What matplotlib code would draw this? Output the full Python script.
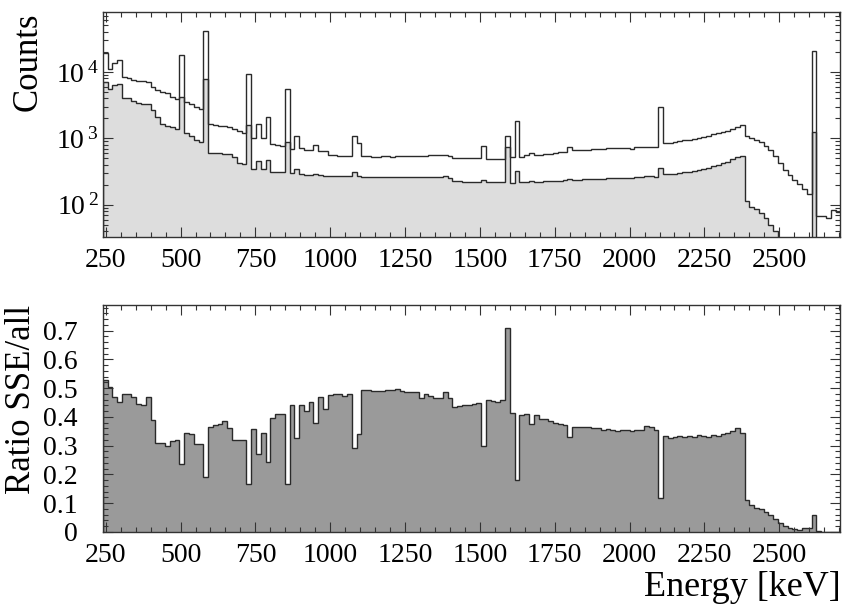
import numpy as np
import matplotlib
matplotlib.use('Agg')
import matplotlib.pyplot as plt
from matplotlib.ticker import MultipleLocator, FixedLocator, FuncFormatter, LogLocator, NullFormatter

# histogram binning (keV)
e_min = 240
bin_w = 16

# all events (upper line, top panel)
counts_all = [
    19500, 11000, 13800, 15100, 8500, 8200, 7500, 7400, 7400, 7150,
    6000, 5400, 5050, 4750, 4150, 3900, 18000, 3570, 3250, 3000,
    2750, 41500, 1650, 1600, 1560, 1510, 1480, 1380, 1300, 1220,
    9200, 1030, 1630, 1000, 2080, 815, 800, 770, 5600, 700,
    1070, 720, 665, 665, 800, 645, 650, 560, 555, 550,
    550, 550, 1100, 850, 550, 540, 530, 530, 535, 535,
    530, 535, 540, 540, 540, 545, 545, 550, 555, 560,
    560, 560, 545, 515, 510, 505, 505, 500, 498, 770,
    490, 487, 485, 485, 1080, 520, 1800, 530, 560, 610,
    565, 570, 575, 590, 610, 620, 625, 740, 660, 670,
    675, 680, 685, 695, 700, 705, 705, 705, 710, 710,
    700, 730, 740, 745, 745, 740, 2950, 865, 865, 890,
    905, 930, 950, 985, 1015, 1065, 1100, 1150, 1190, 1250,
    1310, 1370, 1470, 1580, 1090, 1010, 950, 875, 770, 670,
    535, 430, 335, 283, 237, 207, 174, 145, 20400, 67,
    67, 63, 84, 79]

# single site events (filled, top panel)
counts_sse = [
    7150, 5500, 6300, 6600, 4100, 4000, 3700, 3380, 3250, 3300,
    2700, 2080, 1630, 1510, 1460, 1390, 4150, 1200, 1100, 950,
    870, 7750, 610, 610, 600, 580, 590, 520, 425, 405,
    1590, 345, 450, 345, 475, 315, 315, 315, 890, 300,
    345, 290, 282, 282, 293, 282, 276, 267, 267, 267,
    267, 267, 316, 276, 262, 262, 260, 258, 258, 258,
    258, 260, 260, 262, 262, 262, 260, 262, 263, 263,
    265, 270, 255, 228, 226, 224, 224, 224, 224, 237,
    222, 220, 220, 222, 750, 215, 325, 222, 224, 226,
    224, 224, 226, 228, 230, 232, 234, 245, 238, 240,
    242, 244, 245, 246, 248, 250, 250, 250, 252, 252,
    250, 262, 264, 270, 268, 266, 355, 292, 292, 292,
    300, 310, 316, 328, 335, 347, 364, 378, 400, 423,
    448, 485, 520, 545, 116, 94, 86, 75, 63, 50,
    40, 28, 18, 12, 8, 6, 6, 5, 1230, 2,
    1, 1, 1, 1]

# ratio SSE/all (bottom panel)
ratio = [
    0.53, 0.505, 0.47, 0.45, 0.48, 0.48, 0.47, 0.445, 0.44, 0.47,
    0.39, 0.31, 0.31, 0.30, 0.316, 0.32, 0.235, 0.345, 0.34, 0.305,
    0.305, 0.19, 0.365, 0.372, 0.375, 0.386, 0.36, 0.32, 0.32, 0.32,
    0.167, 0.357, 0.27, 0.345, 0.243, 0.395, 0.41, 0.41, 0.167, 0.44,
    0.325, 0.44, 0.42, 0.45, 0.377, 0.47, 0.427, 0.476, 0.48, 0.48,
    0.473, 0.48, 0.293, 0.34, 0.493, 0.493, 0.49, 0.49, 0.49, 0.493,
    0.493, 0.497, 0.49, 0.488, 0.487, 0.487, 0.467, 0.48, 0.473, 0.465,
    0.467, 0.487, 0.467, 0.435, 0.438, 0.44, 0.442, 0.444, 0.447, 0.30,
    0.458, 0.456, 0.453, 0.458, 0.709, 0.415, 0.179, 0.407, 0.41, 0.374,
    0.406, 0.394, 0.392, 0.386, 0.377, 0.374, 0.372, 0.33, 0.366, 0.365,
    0.363, 0.363, 0.36, 0.36, 0.355, 0.357, 0.355, 0.35, 0.356, 0.354,
    0.35, 0.355, 0.354, 0.369, 0.363, 0.355, 0.119, 0.334, 0.328, 0.331,
    0.334, 0.33, 0.334, 0.331, 0.336, 0.334, 0.331, 0.336, 0.334, 0.34,
    0.343, 0.35, 0.36, 0.345, 0.11, 0.092, 0.084, 0.078, 0.07, 0.06,
    0.043, 0.029, 0.02, 0.014, 0.009, 0.008, 0.012, 0.014, 0.057, 0.002,
    0, 0, 0, 0]

x_ticks = [250, 500, 750, 1000, 1250, 1500, 1750, 2000, 2250, 2500]

plt.rcParams['font.family'] = ['Liberation Serif', 'DejaVu Serif']
plt.rcParams['mathtext.fontset'] = 'custom'
plt.rcParams['mathtext.rm'] = 'Liberation Serif'

edges = e_min + bin_w * np.arange(len(counts_all) + 1)
line_c = '#2a2a2a'

fig = plt.figure(figsize=(8.42, 6.12), dpi=100)
ax1 = fig.add_axes([0.122, 0.613, 0.876, 0.367])
ax2 = fig.add_axes([0.122, 0.131, 0.876, 0.371])

# top panel: counts
ax1.stairs(counts_sse, edges, fill=True, color='#dddddd', baseline=1)
ax1.stairs(counts_sse, edges, color=line_c, lw=1.0, baseline=1)
ax1.stairs(counts_all, edges, color=line_c, lw=1.0, baseline=None)
ax1.set_yscale('log')
ax1.set_ylim(33, 79000)
ax1.yaxis.set_major_locator(FixedLocator([100, 1000, 10000]))
ax1.yaxis.set_major_formatter(FuncFormatter(lambda v, p: r'$\mathregular{10^{\,%d}}$' % round(np.log10(v))))
ax1.yaxis.set_minor_locator(LogLocator(base=10, subs=np.arange(2, 10)))
ax1.yaxis.set_minor_formatter(NullFormatter())
ax1.set_ylabel('Counts', fontsize=25, loc='top', labelpad=8)
ax1.tick_params(axis='y', which='major', pad=3)

# bottom panel: ratio
ax2.stairs(ratio, edges, fill=True, color='#9a9a9a', baseline=0)
ax2.stairs(ratio, edges, color=line_c, lw=1.0, baseline=0)
ax2.set_ylim(0, 0.79)
ax2.yaxis.set_major_locator(MultipleLocator(0.1))
ax2.yaxis.set_minor_locator(MultipleLocator(0.02))
ax2.yaxis.set_major_formatter(FuncFormatter(lambda v, p: '0' if abs(v) < 1e-9 else ('%.1f' % v)))
ax2.set_ylabel('Ratio SSE/all', fontsize=25, loc='top', labelpad=4)
ax2.set_xlabel('Energy [keV]', fontsize=26, loc='right', labelpad=2)
ax2.tick_params(axis='y', which='major', pad=18)

for ax in (ax1, ax2):
    ax.set_xlim(edges[0], edges[-1])
    ax.set_xticks(x_ticks)
    ax.xaxis.set_minor_locator(MultipleLocator(50))
    ax.tick_params(which='both', direction='in', top=True, right=True, labelsize=20, width=0.8, color='#333333')
    ax.tick_params(which='major', length=7)
    ax.tick_params(which='minor', length=3.5)
    ax.tick_params(axis='x', which='major', pad=8)
    for s in ax.spines.values():
        s.set_linewidth(1.0)
        s.set_color('#333333')

fig.savefig('out.png', dpi=100)
